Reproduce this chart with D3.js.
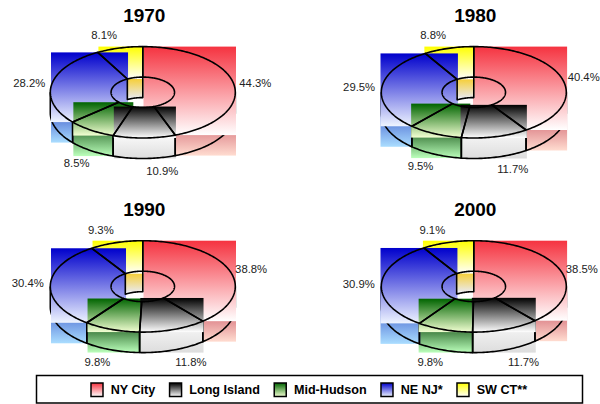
<!DOCTYPE html>
<html><head><meta charset="utf-8">
<script src="https://cdn.jsdelivr.net/npm/d3@7"></script>
<style>html,body{margin:0;padding:0;background:#fff}svg{display:block}text{font-family:"Liberation Sans",Arial,sans-serif}</style>
</head><body><div id="c"></div>
<script>
const regions = ["NY City","Long Island","Mid-Hudson","NE NJ*","SW CT**"];
const years = ["1970","1980","1990","2000"];
const v1970 = [44.3,10.9,8.5,28.2,8.1];
const v1980 = [40.4,11.7,9.5,29.5,8.8];
const v1990 = [38.8,11.8,9.8,30.4,9.3];
const v2000 = [38.5,11.7,9.8,30.9,9.1];
const allValues = [v1970,v1980,v1990,v2000];
const topStart = ["#f53340","#000000","#006400","#0000cc","#ffff00"];
const topEnd   = ["#ffffff","#ffffff","#f2ffd2","#eef4ff","#ffffff"];
const sideStart= ["#b21430","#fafafa","#175417","#0a1cb1","#ffff00"];
const sideEnd  = ["#ffdcd0","#dddddd","#bbffbb","#aaddff","#ffffff"];
const drawOrder = [0,4,3,2,1];

const W=600,H=404, RX=92.5, RY=45.7, HOLE_X=0.343, HOLE_Y=0.333, DEPTH=20.5;
const centers=[[142.8,92.3],[473.8,92.3],[142.8,286.4],[473.8,286.4]];
const rectDx=[0.7,-0.8,0.7,-0.8], rectGrow=[0,1.6,0,1.6];
const svg=d3.select("#c").append("svg").attr("width",W).attr("height",H);
const defs=svg.append("defs");
function grad(id,a,b){const g=defs.append("linearGradient").attr("id",id).attr("x1",0).attr("y1",0).attr("x2",0).attr("y2",1);
  g.append("stop").attr("offset",0).attr("stop-color",a);g.append("stop").attr("offset",1).attr("stop-color",b);}
regions.forEach((r,i)=>{grad("t"+i,topStart[i],topEnd[i]);grad("s"+i,sideStart[i],sideEnd[i]);});
grad("wall","#f6cf3a","#e9e9e9");

const pie=d3.pie().sort(null).value(d=>d);
const line=d3.line().curve(d3.curveLinear);
const PI=Math.PI;
function angles(a,b){const n=Math.max(2,Math.ceil((b-a)/0.02));return d3.range(n+1).map(i=>a+(b-a)*i/n);}

allValues.forEach((vals,ci)=>{
  const [cx,cy]=centers[ci];
  const sx=d3.scaleLinear().domain([-1,1]).range([cx-RX,cx+RX]);
  const sy=d3.scaleLinear().domain([-1,1]).range([cy-RY,cy+RY]);
  const outer=a=>[sx(Math.sin(a)),sy(-Math.cos(a))];
  const inner=a=>[sx(HOLE_X*Math.sin(a)),sy(-HOLE_Y*Math.cos(a))];
  const down=p=>[p[0],p[1]+DEPTH];
  const arcs=pie(vals);
  const g=svg.append("g");
  const bbox=(pts)=>{const xs=d3.extent(pts,p=>p[0]),ys=d3.extent(pts,p=>p[1]);return {x:xs[0],y:ys[0],width:xs[1]-xs[0],height:ys[1]-ys[0]};};
  const rect=(b,fill)=>g.append("rect").attr("x",b.x+rectDx[ci]).attr("y",b.y).attr("width",b.width+rectGrow[ci]).attr("height",b.height).attr("fill",fill);
  const stroke=(pts)=>g.append("path").attr("d",line(pts)).attr("fill","none").attr("stroke","#000").attr("stroke-width",1.6).attr("stroke-linejoin","round");

  // outer side walls: only the part of each slice facing the viewer
  const fronts=arcs.map((d,i)=>({i,a:Math.max(d.startAngle,PI/2),b:Math.min(d.endAngle,3*PI/2)})).filter(f=>f.b>f.a);
  fronts.forEach(f=>{
    const rim=angles(f.a,f.b).map(outer);
    rect(bbox(rim.concat(rim.map(down))),`url(#s${f.i})`);
  });
  fronts.forEach(f=>{
    const rim=angles(f.a,f.b).map(outer);
    stroke([rim[0]].concat(rim.map(down),[rim[rim.length-1]]));
  });

  // top-face gradient boxes
  drawOrder.forEach(i=>{
    const d=arcs[i];const as=angles(d.startAngle,d.endAngle);
    rect(bbox(as.map(outer).concat(as.map(inner))),`url(#t${i})`);
  });

  // inner wall seen through the hole
  const last=arcs[arcs.length-1];
  const wa=angles(last.startAngle,last.endAngle).map(inner);
  const wy0=wa[0][1], wy1=wa[wa.length-1][1]+DEPTH;
  const wx0=wa[0][0], wx1=wa[wa.length-1][0];
  rect({x:wx0,y:wy0,width:wx1-wx0,height:wy1-wy0},"url(#wall)");
  stroke([wa[0]].concat(wa.map(down),[wa[wa.length-1]]));

  // top-face outlines
  arcs.forEach(d=>{
    const as=angles(d.startAngle,d.endAngle);
    const pts=as.map(outer).concat(as.slice().reverse().map(inner));
    pts.push(pts[0]);stroke(pts);
  });

  // title
  g.append("text").attr("x",cx+1.5).attr("y",cy-70.3).attr("text-anchor","middle").attr("font-weight","bold").attr("font-size",19).attr("fill","#000").text(years[ci]);

  // labels
  arcs.forEach(d=>{
    const mid=(d.startAngle+d.endAngle)/2, c=Math.cos(mid), s=Math.sin(mid);
    const p=outer(mid);
    let dx,dy,anchor=s>=0?"start":"end";
    if(c<-0.5){dx=s>=0?2:-1.5;dy=32.5;}
    else if(c>0.5){dx=s>=0?2:-2.5;dy=-13;}
    else{dx=s>=0?5.5:-6.5;dy=-1.5;}
    g.append("text").attr("x",p[0]+dx).attr("y",p[1]+dy).attr("dy","0.36em").attr("text-anchor",anchor)
      .attr("font-size",11.3).attr("fill","#222").text(d.data.toFixed(1)+"%");
  });
});

// legend
const lg=svg.append("g");
lg.append("rect").attr("x",36.5).attr("y",375.5).attr("width",546).attr("height",27.5).attr("fill","#fff").attr("stroke","#000").attr("stroke-width",1.5);
let lx=91;
regions.forEach((r,i)=>{
  lg.append("rect").attr("x",lx).attr("y",383).attr("width",12).attr("height",13.5).attr("fill",`url(#t${i})`).attr("stroke","#000").attr("stroke-width",1.5);
  const t=lg.append("text").attr("x",lx+19.7).attr("y",394).attr("font-weight","bold").attr("font-size",12.6).attr("fill","#000").text(r);
  lx+=19.7+t.node().getComputedTextLength()+14.3;
});
</script></body></html>
